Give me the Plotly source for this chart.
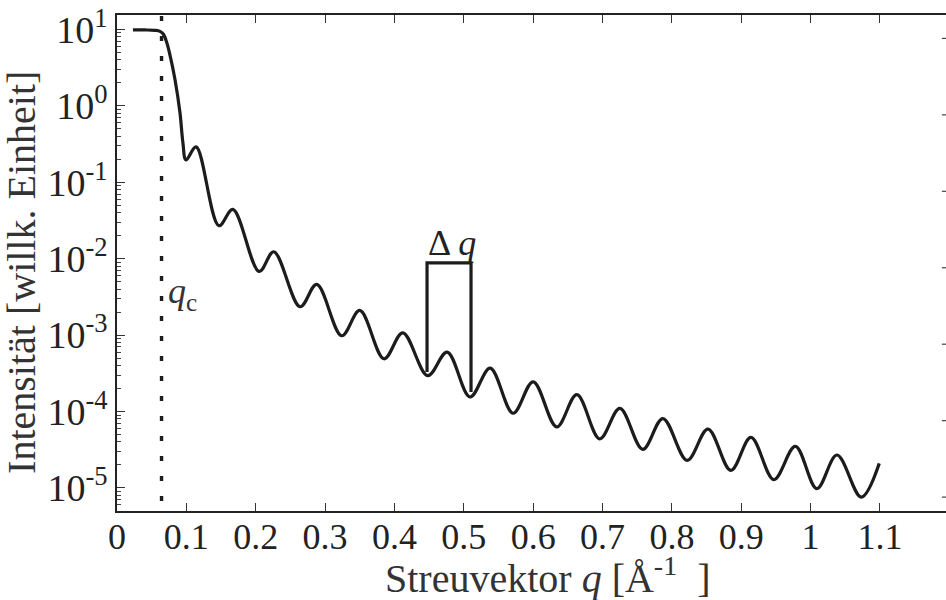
import plotly.graph_objects as go

# ---- data ----
q_vals = [0.023, 0.040, 0.055, 0.062, 0.067, 0.0715, 0.0764, 0.0836, 0.0908, 0.095, 0.0995,
          0.114, 0.147, 0.167, 0.205, 0.226, 0.264, 0.288, 0.324, 0.350, 0.385, 0.412,
          0.448, 0.476, 0.509, 0.538, 0.571, 0.600, 0.634, 0.663, 0.696, 0.725, 0.758,
          0.787, 0.822, 0.852, 0.885, 0.914, 0.947, 0.978, 1.009, 1.038, 1.073, 1.099]
intensity = [9.8, 9.8, 9.7, 9.4, 8.6, 6.8, 4.6, 2.2, 0.81, 0.33, 0.195,
             0.29, 0.027, 0.044, 0.0068, 0.0123, 2.35e-3, 4.6e-3, 9.8e-4, 2.1e-3, 4.9e-4, 1.07e-3,
             2.95e-4, 6.0e-4, 1.55e-4, 3.7e-4, 9.5e-5, 2.45e-4, 6.3e-5, 1.66e-4, 4.4e-5, 1.1e-4, 3.2e-5,
             8.1e-5, 2.3e-5, 5.9e-5, 1.7e-5, 4.6e-5, 1.29e-5, 3.5e-5, 9.8e-6, 2.7e-5, 7.6e-6, 2.1e-5]

q_c = 0.0642
delta_q_left = 0.447
delta_q_right = 0.5104
bracket_q = [delta_q_left, delta_q_left, delta_q_right, delta_q_right]
bracket_I = [3.3e-4, 8.8e-3, 8.8e-3, 1.8e-4]

x_ticks = [0, 0.1, 0.2, 0.3, 0.4, 0.5, 0.6, 0.7, 0.8, 0.9, 1.0, 1.1]
x_ticktext = ["0", "0.1", "0.2", "0.3", "0.4", "0.5", "0.6", "0.7", "0.8", "0.9", "1", "1.1"]
y_exps = [1, 0, -1, -2, -3, -4, -5]
y_ticks = [10.0 ** e for e in y_exps]
y_ticktext = ["10<sup>%d</sup>" % e for e in y_exps]

FONT = "Liberation Serif"
INK = "#1c1c1c"

fig = go.Figure()
fig.add_trace(go.Scatter(x=q_vals, y=intensity, mode="lines",
                         line=dict(color=INK, width=3.2, shape="spline", smoothing=1.0),
                         showlegend=False, hoverinfo="skip"))
fig.add_trace(go.Scatter(x=bracket_q, y=bracket_I, mode="lines",
                         line=dict(color=INK, width=3.2),
                         showlegend=False, hoverinfo="skip"))

shapes = [dict(type="line", xref="x", yref="paper", x0=q_c, x1=q_c, y0=0.02, y1=1.014,
               line=dict(color=INK, width=3.4, dash="5px,15px"))]
# right-side short tick marks (slightly offset, as in the reference)
for v in y_ticks:
    shapes.append(dict(type="line", xref="paper", yref="y", x0=0.995, x1=1.0,
                       y0=v * 0.76, y1=v * 0.76, line=dict(color="#444", width=1.2)))

fig.update_layout(
    width=946, height=600,
    margin=dict(l=117, r=0, t=15, b=89),
    paper_bgcolor="white", plot_bgcolor="white",
    font=dict(family=FONT, size=36, color="#222"),
    shapes=shapes,
    xaxis=dict(range=[0, 1.1952], tickvals=x_ticks, ticktext=x_ticktext,
               ticks="inside", ticklen=8, tickwidth=1.3, tickcolor="#333",
               ticklabelstandoff=-7,
               showline=True, linecolor="#222", linewidth=1.6, mirror="ticks",
               showgrid=False, zeroline=False,
               tickfont=dict(family=FONT, size=36, color="#222")),
    yaxis=dict(type="log", range=[-5.301, 1.187], tickvals=y_ticks, ticktext=y_ticktext,
               ticks="inside", ticklen=8, tickwidth=1.3, tickcolor="#333",
               minor=dict(ticks="inside", ticklen=4, tickwidth=1, tickcolor="#444", dtick="D1", showgrid=False),
               showline=True, linecolor="#222", linewidth=1.6, mirror=False,
               showgrid=False, zeroline=False,
               tickfont=dict(family=FONT, size=38, color="#222")),
    annotations=[
        dict(text="<i>q</i><sub>c</sub>", x=0.0705, y=-2.45, xref="x", yref="y",
             xanchor="left", yanchor="middle", showarrow=False,
             font=dict(family=FONT, size=36, color="#333")),
        dict(text="Δ <i>q</i>", x=0.483, y=-1.80, xref="x", yref="y",
             xanchor="center", yanchor="middle", showarrow=False,
             font=dict(family=FONT, size=36, color="#222")),
        dict(text="Streuvektor\u00a0<i>q</i>\u00a0[Å<sup>-1</sup>\u00a0\u00a0]", x=0.52, y=-0.13,
             xref="paper", yref="paper",
             xanchor="center", yanchor="middle", showarrow=False,
             font=dict(family=FONT, size=40, color="#333")),
        dict(text="Intensität [willk. Einheit]", x=-0.1146, y=0.482, xref="paper", yref="paper",
             xanchor="center", yanchor="middle", textangle=-90, showarrow=False,
             font=dict(family=FONT, size=40, color="#333")),
    ],
)

fig.write_html("out.html")
